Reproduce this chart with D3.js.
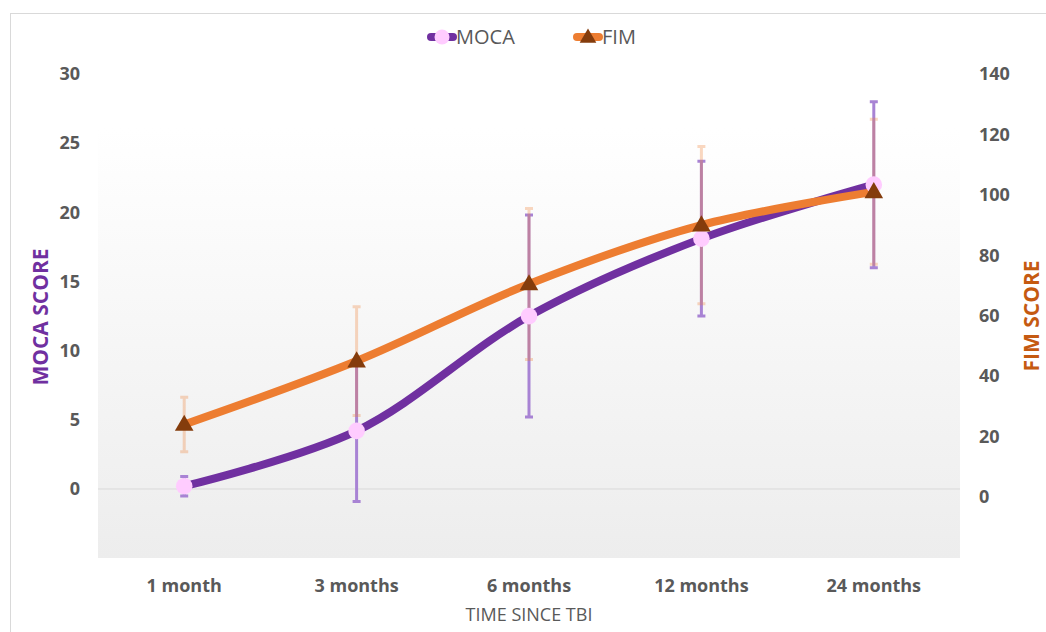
<!DOCTYPE html>
<html>
<head>
<meta charset="utf-8">
<script src="https://cdn.jsdelivr.net/npm/d3@7"></script>
<style>
  html, body { margin: 0; padding: 0; background: #ffffff; }
  svg { display: block; }
  text { font-family: "Open Sans", "DejaVu Sans", sans-serif; }
</style>
</head>
<body>
<svg id="chart" width="1046" height="632"></svg>
<script>
// Time points after the injury
const categories = ["1 month", "3 months", "6 months", "12 months", "24 months"];

// MoCA (left axis): mean and standard deviation
const mocaMean = [0.2, 4.2, 12.5, 18.1, 22.0];
const mocaSD   = [0.7, 5.1, 7.3, 5.6, 6.0];

// FIM (right axis): mean and standard deviation
const fimMean = [24, 45, 70.5, 90, 101];
const fimSD   = [9, 18, 25, 26, 24];

// Axis ticks
const mocaTicks = [0, 5, 10, 15, 20, 25, 30];
const fimTicks  = [0, 20, 40, 60, 80, 100, 120, 140];

const seriesNames = ["MOCA", "FIM"];

const svg = d3.select("#chart");

// Outer chart frame
svg.append("rect")
  .attr("x", 10.5).attr("y", 13.5)
  .attr("width", 1100).attr("height", 700)
  .attr("fill", "#ffffff")
  .attr("stroke", "#d9d9d9").attr("stroke-width", 1);

// Plot area with vertical gradient fill
const defs = svg.append("defs");
const grad = defs.append("linearGradient")
  .attr("id", "plotFill").attr("x1", 0).attr("y1", 0).attr("x2", 0).attr("y2", 1);
grad.append("stop").attr("offset", "0%").attr("stop-color", "#ffffff");
grad.append("stop").attr("offset", "100%").attr("stop-color", "#ededed");

const plot = { left: 98, right: 960, top: 128, bottom: 558 };

svg.append("rect")
  .attr("x", plot.left).attr("y", plot.top)
  .attr("width", plot.right - plot.left).attr("height", plot.bottom - plot.top)
  .attr("fill", "url(#plotFill)");

// Scales
const x = d3.scaleBand().domain(categories).range([plot.left, plot.right]).padding(0);
const cx = d => x(d) + x.bandwidth() / 2;
const yL = d3.scaleLinear().domain([0, 30]).range([489, 74]);
const yR = d3.scaleLinear().domain([0, 140]).range([497, 74]);

// Zero gridline
svg.append("line")
  .attr("x1", plot.left).attr("x2", plot.right)
  .attr("y1", yL(0)).attr("y2", yL(0))
  .attr("stroke", "#d9d9d9").attr("stroke-width", 1);

// Left axis (MoCA)
const gL = svg.append("g")
  .attr("transform", "translate(80,0)")
  .call(d3.axisLeft(yL).tickValues(mocaTicks).tickSize(0).tickPadding(0));
gL.select(".domain").remove();
gL.selectAll("text")
  .attr("fill", "#595959").attr("font-size", 18).attr("font-weight", 700)
  .style("font-family", '"Open Sans", sans-serif');

// Right axis (FIM)
const gR = svg.append("g")
  .attr("transform", "translate(979,0)")
  .call(d3.axisRight(yR).tickValues(fimTicks).tickSize(0).tickPadding(0));
gR.select(".domain").remove();
gR.selectAll("text")
  .attr("fill", "#595959").attr("font-size", 18).attr("font-weight", 700)
  .style("font-family", '"Open Sans", sans-serif');

// Bottom axis (time points)
const gB = svg.append("g")
  .attr("transform", "translate(0,579)")
  .call(d3.axisBottom(x).tickSize(0).tickPadding(0));
gB.select(".domain").remove();
gB.selectAll("text")
  .attr("fill", "#595959").attr("font-size", 18).attr("font-weight", 700)
  .style("font-family", '"Open Sans", sans-serif');

// Axis titles
svg.append("text")
  .attr("transform", "translate(48,317) rotate(-90)")
  .attr("text-anchor", "middle")
  .attr("fill", "#7030a0").attr("font-size", 21).attr("font-weight", 700)
  .text("MOCA SCORE");

svg.append("text")
  .attr("transform", "translate(1039,316) rotate(-90)")
  .attr("text-anchor", "middle")
  .attr("fill", "#c55a11").attr("font-size", 21).attr("font-weight", 700)
  .text("FIM SCORE");

svg.append("text")
  .attr("x", (plot.left + plot.right) / 2).attr("y", 621)
  .attr("text-anchor", "middle")
  .attr("fill", "#595959").attr("font-size", 18)
  .text("TIME SINCE TBI");

// Error bars: MoCA first, FIM drawn over it semi-transparently
const capHalf = 4;
function errorBars(means, sds, scale, color, opacity, cls) {
  const g = svg.append("g").attr("class", cls)
    .attr("stroke", color).attr("stroke-opacity", opacity).attr("stroke-width", 3);
  categories.forEach((c, i) => {
    const xc = cx(c);
    const y1 = scale(means[i] + sds[i]);
    const y2 = scale(means[i] - sds[i]);
    const path = d3.path();
    path.moveTo(xc, y1); path.lineTo(xc, y2);
    path.moveTo(xc - capHalf, y1); path.lineTo(xc + capHalf, y1);
    path.moveTo(xc - capHalf, y2); path.lineTo(xc + capHalf, y2);
    g.append("path").attr("d", path.toString()).attr("fill", "none");
  });
}
errorBars(mocaMean, mocaSD, yL, "#a883d4", 1, "moca-err");
errorBars(fimMean, fimSD, yR, "#ed7d31", 0.3, "fim-err");

// Smoothed lines
const mocaLine = d3.line()
  .x((d, i) => cx(categories[i])).y(d => yL(d))
  .curve(d3.curveCatmullRom.alpha(0.5));
const fimLine = d3.line()
  .x((d, i) => cx(categories[i])).y(d => yR(d))
  .curve(d3.curveCatmullRom.alpha(0.5));

svg.append("path").datum(mocaMean)
  .attr("d", mocaLine).attr("fill", "none")
  .attr("stroke", "#7030a0").attr("stroke-width", 8).attr("stroke-linecap", "round");
svg.append("path").datum(fimMean)
  .attr("d", fimLine).attr("fill", "none")
  .attr("stroke", "#ed7d31").attr("stroke-width", 8).attr("stroke-linecap", "round");

// Markers
const tri = d3.symbol().type(d3.symbolTriangle).size(150);
svg.append("g").selectAll("circle").data(mocaMean).join("circle")
  .attr("cx", (d, i) => cx(categories[i])).attr("cy", d => yL(d))
  .attr("r", 8.3).attr("fill", "#ffccff");
svg.append("g").selectAll("path").data(fimMean).join("path")
  .attr("transform", (d, i) => `translate(${cx(categories[i])},${yR(d) + 1})`)
  .attr("d", tri).attr("fill", "#843c0c");

// Legend
const legend = svg.append("g");
const legendItems = [
  { name: seriesNames[0], x: 427, line: "#7030a0", marker: "circle" },
  { name: seriesNames[1], x: 573, line: "#ed7d31", marker: "triangle" }
];
legendItems.forEach(it => {
  legend.append("line")
    .attr("x1", it.x + 4).attr("x2", it.x + 26).attr("y1", 37).attr("y2", 37)
    .attr("stroke", it.line).attr("stroke-width", 8).attr("stroke-linecap", "round");
  if (it.marker === "circle") {
    legend.append("circle").attr("cx", it.x + 15).attr("cy", 37).attr("r", 7.5).attr("fill", "#ffccff");
  } else {
    legend.append("path").attr("transform", `translate(${it.x + 15},38)`)
      .attr("d", d3.symbol().type(d3.symbolTriangle).size(120)).attr("fill", "#843c0c");
  }
  legend.append("text")
    .attr("x", it.x + 29).attr("y", 44)
    .attr("fill", "#595959").attr("font-size", 20)
    .text(it.name);
});
</script>
</body>
</html>
